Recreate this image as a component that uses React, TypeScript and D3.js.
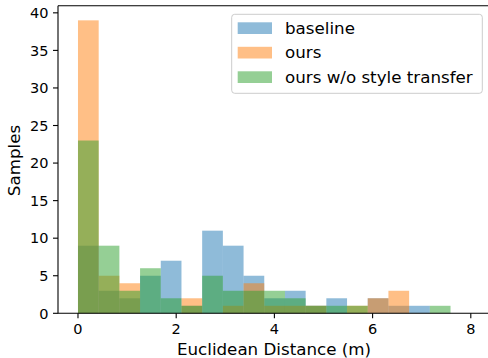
import React from "react";
import * as d3 from "d3";

const binEdges = [0, 0.4215, 0.843, 1.2645, 1.686, 2.1075, 2.529, 2.9505, 3.372, 3.7935, 4.215, 4.6365, 5.058, 5.4795, 5.901, 6.3225, 6.744, 7.1655, 7.587];
const seriesNames = ["baseline", "ours", "ours w/o style transfer"];
const baseline = [9, 3, 2, 5, 7, 1, 11, 9, 5, 2, 3, 1, 2, 0, 2, 1, 1, 0];
const ours = [39, 5, 4, 0, 0, 2, 0, 1, 4, 1, 1, 1, 0, 1, 2, 3, 0, 0];
const oursNoStyle = [23, 9, 3, 6, 2, 1, 5, 3, 3, 3, 2, 1, 1, 1, 0, 0, 0, 1];
const xTicks = [0, 2, 4, 6, 8];
const yTicks = [0, 5, 10, 15, 20, 25, 30, 35, 40];

const colors = ["#1f77b4", "#ff7f0e", "#2ca02c"];
const FONT = "DejaVu Sans, sans-serif";

export default function App() {
  const W = 488, H = 358;
  const left = 58, right = 490, top = 5.7, bottom = 313.3;
  const x = d3.scaleLinear().domain([-0.407, 8.391]).range([left, right]);
  const y = d3.scaleLinear().domain([0, 40.95]).range([bottom, top]);
  const series = [baseline, ours, oursNoStyle];
  const fs = 14.5;
  const fl = 16.7;

  return (
    <svg width={W} height={H} style={{ position: "absolute", left: 0, top: 0 }} fontFamily={FONT}>
      <rect x={0} y={0} width={W} height={H} fill="#fff" />
      {series.map((vals, si) => (
        <g key={si}>
          {vals.map((v, i) =>
            v > 0 ? (
              <rect
                key={i}
                x={x(binEdges[i])}
                width={x(binEdges[i + 1]) - x(binEdges[i])}
                y={y(v)}
                height={y(0) - y(v)}
                fill={colors[si]}
                fillOpacity={0.5}
              />
            ) : null
          )}
        </g>
      ))}
      {/* spines */}
      <line x1={left} x2={left} y1={top} y2={bottom} stroke="#000" strokeWidth={1.1} />
      <line x1={left} x2={right} y1={bottom} y2={bottom} stroke="#000" strokeWidth={1.1} />
      <line x1={left} x2={right} y1={top} y2={top} stroke="#000" strokeWidth={1.1} />
      <line x1={right} x2={right} y1={top} y2={bottom} stroke="#000" strokeWidth={1.1} />
      {/* x ticks */}
      {xTicks.map((t) => (
        <g key={t}>
          <line x1={x(t)} x2={x(t)} y1={bottom} y2={bottom + 5} stroke="#000" strokeWidth={1.1} />
          <text x={x(t)} y={334} textAnchor="middle" fontSize={fs} fill="#000">
            {t}
          </text>
        </g>
      ))}
      {/* y ticks */}
      {yTicks.map((t) => (
        <g key={t}>
          <line x1={left - 5} x2={left} y1={y(t)} y2={y(t)} stroke="#000" strokeWidth={1.1} />
          <text x={left - 9.5} y={y(t)} dy="0.36em" textAnchor="end" fontSize={fs} fill="#000">
            {t}
          </text>
        </g>
      ))}
      <text x={274} y={355} textAnchor="middle" fontSize={fl} fill="#000">
        Euclidean Distance (m)
      </text>
      <text
        transform={`translate(19.5,${(top + bottom) / 2 + 1}) rotate(-90)`}
        textAnchor="middle"
        fontSize={fl}
        fill="#000"
      >
        Samples
      </text>
      {/* legend */}
      <g>
        <rect x={231.7} y={14.3} width={250.6} height={79} rx={3} fill="#fff" fillOpacity={0.8} stroke="#ccc" strokeWidth={1} />
        {seriesNames.map((n, i) => (
          <g key={n}>
            <rect x={237.7} y={22.3 + i * 24.5} width={34.3} height={11.7} fill={colors[i]} fillOpacity={0.5} />
            <text x={285} y={33.6 + i * 24.5} fontSize={fl} fill="#000">
              {n}
            </text>
          </g>
        ))}
      </g>
    </svg>
  );
}
